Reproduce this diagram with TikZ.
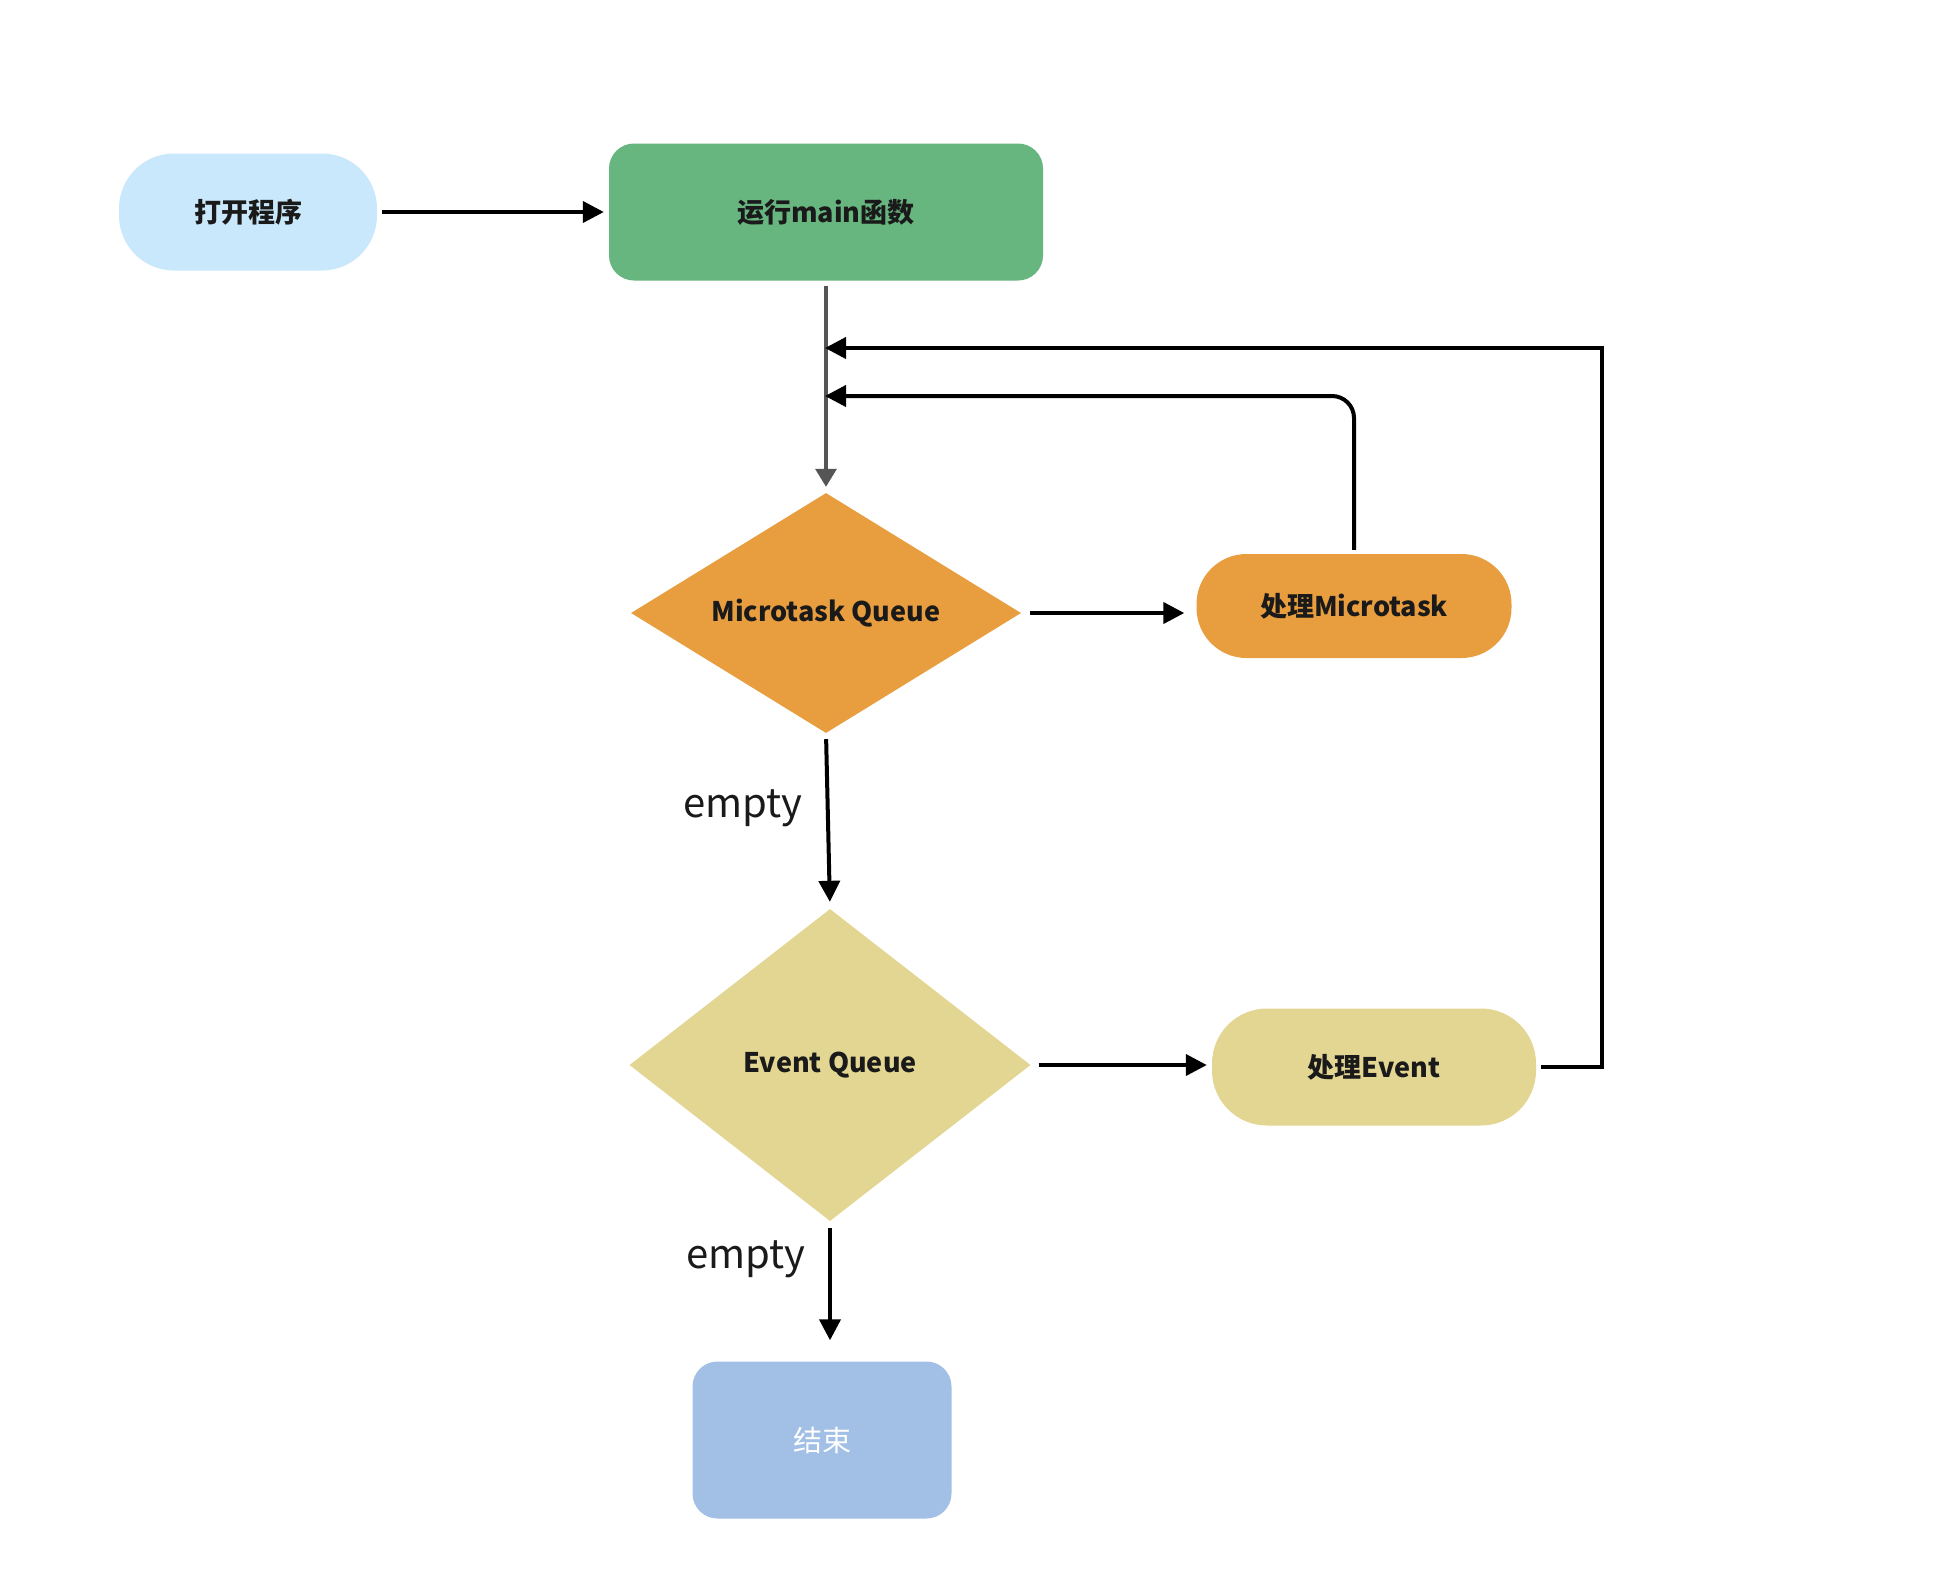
\documentclass[tikz,border=0pt]{standalone}
\usepackage{fontspec}
\setmainfont{Noto Sans CJK SC}
\usetikzlibrary{shapes.geometric,arrows.meta}
\definecolor{cstart}{HTML}{C9E8FB}
\definecolor{cmain}{HTML}{67B57F}
\definecolor{cmicro}{HTML}{E89E3F}
\definecolor{cevent}{HTML}{E3D592}
\definecolor{cend}{HTML}{A2BFE6}
\definecolor{cgray}{HTML}{555555}
\definecolor{ctext}{HTML}{1A1A1A}
\begin{document}
\begin{tikzpicture}[x=1pt,y=-1pt,
  lbl/.style={font=\fontsize{27}{32}\selectfont\bfseries, text=ctext},
  stadium/.style={lbl, rectangle, inner sep=0pt, draw=none},
  boxnode/.style={lbl, rectangle, rounded corners=25pt, inner sep=0pt, draw=none},
  dia/.style={lbl, diamond, inner sep=0pt, draw=none},
  arr/.style={draw=black, line width=4pt, -{Triangle[length=21pt,width=21pt]}},
  garr/.style={draw=cgray, line width=3.2pt, -{Triangle[length=18pt,width=21pt]}},
  emptylbl/.style={font=\fontsize{40}{48}\selectfont, text=ctext}]
\useasboundingbox (0,0) rectangle (1958,1580);
\fill[white] (0,0) rectangle (1958,1580);

\node[stadium, fill=cstart, minimum width=258pt, minimum height=117pt, rounded corners=55pt] (start) at (248,212) {\raisebox{-3pt}{打开程序}};
\node[boxnode, fill=cmain, minimum width=434pt, minimum height=137pt] (main) at (826,212) {\raisebox{-3pt}{运行main函数}};
\node[dia, fill=cmicro, minimum width=390pt, minimum height=240pt, aspect=1.625] (mq) at (826,613) {\raisebox{3pt}{Microtask Queue}};
\node[stadium, fill=cmicro, minimum width=315pt, minimum height=104pt, rounded corners=50pt] (pm) at (1354,606) {处理Microtask};
\node[dia, fill=cevent, minimum width=401pt, minimum height=312pt, aspect=1.285] (eq) at (830,1065) {\raisebox{-2pt}{Event Queue}};
\node[stadium, fill=cevent, minimum width=324pt, minimum height=117pt, rounded corners=55pt] (pe) at (1374,1067) {处理Event};
\node[boxnode, fill=cend, minimum width=259pt, minimum height=157pt, text=white, font=\fontsize{29}{34}\selectfont] (end) at (822,1440) {结束};

\coordinate (j1) at (825,348);
\coordinate (j2) at (825,396);
\coordinate (c1) at (1602,348);

\draw[arr, shorten <=5pt, shorten >=5pt] (start.east) -- (main.west);
\draw[garr, shorten <=5pt, shorten >=6pt] (main.south) -- (mq.north);
\draw[arr, shorten <=9pt, shorten >=12pt] (mq.east) -- (mq.east -| pm.west);
\draw[arr, shorten <=8pt, shorten >=5pt] (eq.east) -- (eq.east -| pe.west);
\draw[arr, rounded corners=22pt, shorten <=4pt] (pm.north) -- (pm.north |- j2) -- (j2);
\draw[arr, shorten <=5pt] (pe.east) -- (pe.east -| c1) -- (c1) -- (j1);
\draw[arr, shorten <=6pt, shorten >=7pt] (mq.south) -- node[emptylbl, pos=0.43, left=20pt] {empty} (eq.north);
\draw[arr, shorten <=7pt, shorten >=21pt] (eq.south) -- node[emptylbl, pos=0.27, left=19pt] {empty} (eq.south |- end.north);
\end{tikzpicture}
\end{document}
